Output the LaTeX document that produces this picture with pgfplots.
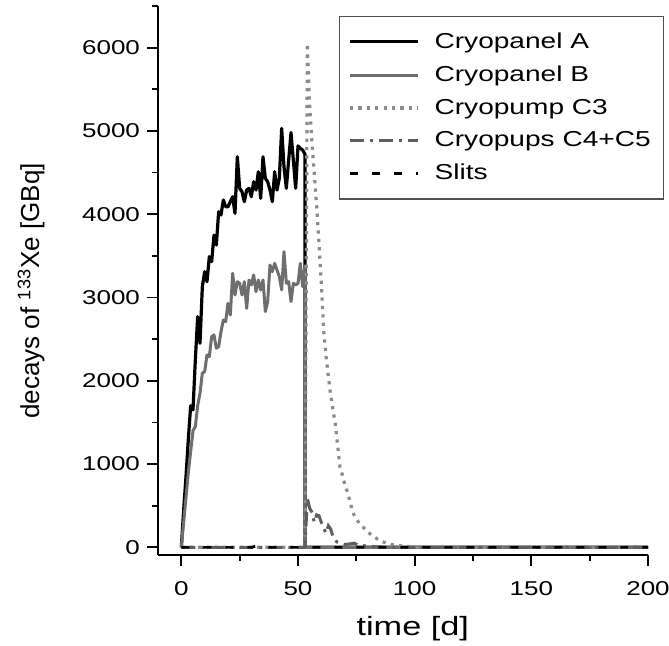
\documentclass[border=0pt]{standalone}
\usepackage{fontspec}
\setmainfont{Liberation Sans}[FakeStretch=1.3]
\newfontfamily\plainfont{Liberation Sans}
\usepackage{pgfplots}
\pgfplotsset{compat=1.18}
\usepackage{pgfplotstable}

\definecolor{grayB}{HTML}{6E6E6E}
\definecolor{grayC}{HTML}{8C8C8C}
\definecolor{grayD}{HTML}{5E5E5E}
\definecolor{legframe}{HTML}{505050}

% Cryopanel A
\pgfplotstableread{
t v
0 0
1 450
2 850
3 1300
4 1700
5 1650
6 2250
7 2770
8 2450
9 3130
10 3310
11 3190
12 3490
13 3430
14 3750
15 3630
16 4030
17 3990
18 4170
19 4090
20 4090
21 4150
22 4210
23 4010
24 4690
25 4310
26 4270
27 4150
28 4290
29 4310
30 4210
31 4390
32 4290
33 4510
34 4190
35 4690
36 4430
37 4390
38 4290
39 4150
40 4510
41 4290
42 4430
43 5030
44 4570
45 4310
46 4650
47 4980
48 4650
49 4310
50 4820
51 4790
52 4770
53 4720
53 0
200 0
}\panelA

% Cryopanel B
\pgfplotstableread{
t v
0 0
1 300
2 600
3 900
4 1150
5 1400
6 1450
7 1700
8 1850
9 2090
10 2110
11 2310
12 2290
13 2530
14 2550
15 2390
16 2410
17 2590
18 2730
19 2710
20 2930
21 2790
22 3290
23 3030
24 3190
25 3170
26 3030
27 3190
28 2870
29 3210
30 3150
31 3270
32 3070
33 3210
34 3090
35 3210
36 2830
37 2950
38 3390
39 3310
40 3410
41 3330
42 3250
43 3090
44 3550
45 3170
46 3190
47 2950
48 3170
49 3150
50 3170
51 3410
52 3130
53 3380
53 0
200 0
}\panelB

% Cryopump C3
\pgfplotstableread{
t v
0 0
53 0
54 6050
55 5300
56 4850
57 4480
58 4100
59 3650
60 3170
61 2600
62 2300
63 2050
64 1830
65 1650
66 1480
67 1220
68 960
69 870
70 760
71 680
72 580
73 470
74 390
75 340
76 300
77 270
78 240
79 210
80 180
82 140
84 100
86 70
88 50
90 35
92 25
95 15
100 5
110 0
200 0
}\pumpC

% Cryopumps C4+C5
\pgfplotstableread{
t v
0 0
53 0
54 590
55 470
56 420
57 300
58 390
59 380
60 300
61 230
62 170
63 260
64 220
65 130
66 80
67 60
68 50
70 35
72 40
74 50
76 25
80 15
85 5
90 0
200 0
}\pumpD

% Slits
\pgfplotstableread{
t v
0 0
30 0
34 30
36 0
200 0
}\slits

\begin{document}
\begin{tikzpicture}
\begin{axis}[
    name=ax,
    scale only axis,
    width=245pt, height=274.5pt,
    xmin=-10, xmax=200,
    ymin=-92, ymax=6500,
    axis lines=left,
    axis line style={-, line width=1pt},
    xtick={0,50,...,200},
    minor xtick={25,75,125,175},
    ytick={0,1000,...,6000},
    minor ytick={500,1500,...,6500},
    tick align=outside,
    major tick length=5.5pt,
    minor tick length=2.8pt,
    tick style={line width=0.9pt, black},
    scaled ticks=false,
    /pgf/number format/set thousands separator={},
    /pgf/number format/assume math mode=true,
    tick label style={font=\fontsize{10}{12}\selectfont},
    xticklabel style={yshift=-4pt},
    xlabel={time [d]},
    ylabel={decays of \textsuperscript{133}Xe [GBq]},
    xlabel style={at={(axis description cs:0.52,0)}, anchor=center, yshift=-37pt, font=\fontsize{13.2}{15}\selectfont},
    ylabel style={at={(axis description cs:-0.259,0.481)}, anchor=center, font=\plainfont\fontsize{13}{15}\selectfont},
    legend style={at={(axis description cs:0.369,0.982)}, anchor=north west,
                  draw=legframe, line width=0.6pt,
                  font=\fontsize{10.8}{13}\selectfont,
                  inner xsep=4.5pt, inner ysep=6pt, row sep=3.3pt,
                  cells={anchor=west},
                  /tikz/every odd column/.append style={column sep=5.5pt}},
    legend image code/.code={\draw[#1] (0pt,0pt) -- (34pt,0pt);},
]
\addplot[black, line width=1.6pt, line join=round] table[x=t, y=v] {\panelA};
\addplot[grayB, line width=1.5pt, line join=round] table[x=t, y=v] {\panelB};
\addplot[grayC, line width=1.6pt, dash pattern=on 1.6pt off 2.6pt] table[x=t, y=v] {\pumpC};
\addplot[grayD, line width=1.5pt, dash pattern=on 7pt off 3pt on 1.5pt off 3pt] table[x=t, y=v] {\pumpD};
\addplot[black, line width=1.3pt, dash pattern=on 4pt off 7pt] table[x=t, y=v] {\slits};
\legend{Cryopanel A, Cryopanel B, Cryopump C3, Cryopups C4+C5, Slits}
\end{axis}
\pgfresetboundingbox
\path[use as bounding box] ([shift={(-79pt,-45.5pt)}]ax.south west) rectangle ([shift={(10.5pt,3pt)}]ax.north east);
\end{tikzpicture}
\end{document}
